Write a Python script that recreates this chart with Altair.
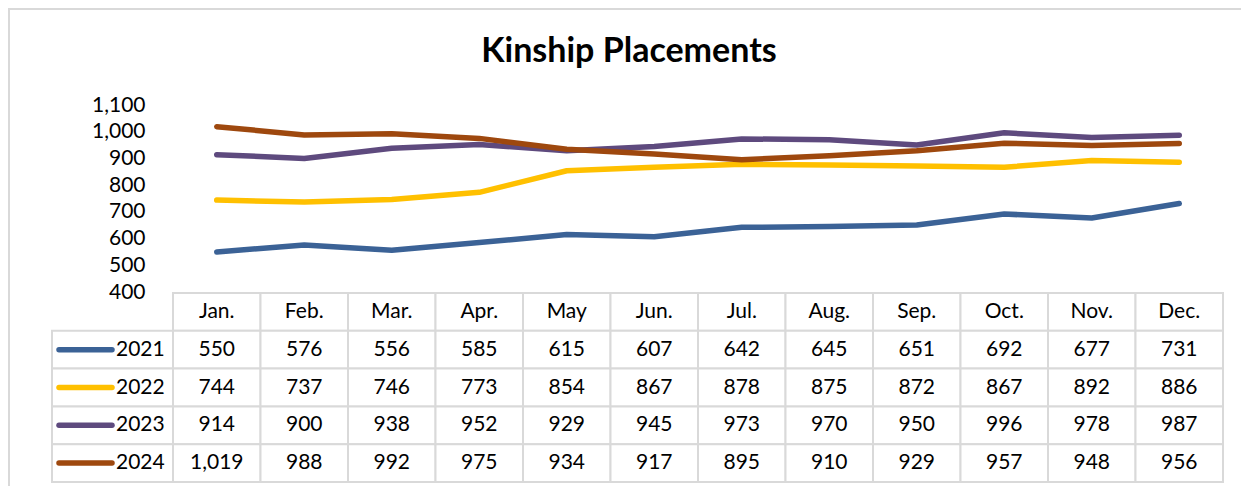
import altair as alt
import pandas as pd

months = ["Jan.", "Feb.", "Mar.", "Apr.", "May", "Jun.", "Jul.", "Aug.", "Sep.", "Oct.", "Nov.", "Dec."]
years = ["2021", "2022", "2023", "2024"]
v2021 = [550, 576, 556, 585, 615, 607, 642, 645, 651, 692, 677, 731]
v2022 = [744, 737, 746, 773, 854, 867, 878, 875, 872, 867, 892, 886]
v2023 = [914, 900, 938, 952, 929, 945, 973, 970, 950, 996, 978, 987]
v2024 = [1019, 988, 992, 975, 934, 917, 895, 910, 929, 957, 948, 956]
colors = ["#3B6296", "#FFC000", "#5E4A7E", "#9E480E"]
y_ticks = [400, 500, 600, 700, 800, 900, 1000, 1100]
title_text = "Kinship Placements"

series = {"2021": v2021, "2022": v2022, "2023": v2023, "2024": v2024}
FONT = "Lato"
FS = 21
W, H = 1050, 377
LINE_H = 187
rows = ["hdr"] + years

line_df = pd.DataFrame([
    {"year": y, "xc": i + 0.5, "value": v, "order": k}
    for k, y in enumerate(years) for i, v in enumerate(series[y])
])
cell_df = pd.DataFrame([
    {"x0": i, "x1": i + 1, "row": r} for i in range(len(months)) for r in rows
])
hdr_df = pd.DataFrame([{"xc": i + 0.5, "row": "hdr", "label": m} for i, m in enumerate(months)])
val_df = pd.DataFrame([
    {"xc": i + 0.5, "row": y, "label": f"{v:,}"}
    for y in years for i, v in enumerate(series[y])
])
leg_df = pd.DataFrame([{"row": y, "year": y} for y in years])

xs = alt.Scale(domain=[0, 12], nice=False, zero=False)
row_scale = alt.Scale(domain=rows, range=[LINE_H + 1, H], paddingInner=0, paddingOuter=0)
color_scale = alt.Scale(domain=years, range=colors)

lines = alt.Chart(line_df).mark_line(strokeWidth=5.5, strokeCap="round", strokeJoin="round").encode(
    x=alt.X("xc:Q", scale=xs, axis=None),
    y=alt.Y("value:Q", scale=alt.Scale(domain=[400, 1100], range=[LINE_H, 0], nice=False, zero=False),
            axis=alt.Axis(values=y_ticks, format=",.0f", domain=False, ticks=False, grid=False,
                          labelFont=FONT, labelFontSize=FS, labelColor="#000000",
                          labelPadding=28, title=None)),
    color=alt.Color("year:N", scale=color_scale, legend=None),
    detail="year:N",
    order=alt.Order("xc:Q"),
)

cells = alt.Chart(cell_df).mark_rect(fill="white", stroke="#D9D9D9", strokeWidth=2).encode(
    x=alt.X("x0:Q", scale=xs, axis=None),
    x2="x1:Q",
    y=alt.Y("row:N", scale=row_scale, axis=None),
)
leg_cells = alt.Chart(leg_df).mark_rect(fill="white", stroke="#D9D9D9", strokeWidth=2).encode(
    x=alt.value(-121), x2=alt.value(0),
    y=alt.Y("row:N", scale=row_scale, axis=None),
)
hdr_text = alt.Chart(hdr_df).mark_text(font=FONT, fontSize=FS, color="#000000", baseline="middle").encode(
    x=alt.X("xc:Q", scale=xs, axis=None),
    y=alt.Y("row:N", scale=row_scale, axis=None),
    text="label:N",
)
val_text = alt.Chart(val_df).mark_text(font=FONT, fontSize=FS, color="#000000", baseline="middle").encode(
    x=alt.X("xc:Q", scale=xs, axis=None),
    y=alt.Y("row:N", scale=row_scale, axis=None),
    text="label:N",
)
swatch = alt.Chart(leg_df).mark_rule(strokeWidth=5.5, strokeCap="round").encode(
    x=alt.value(-114), x2=alt.value(-61),
    y=alt.Y("row:N", scale=row_scale, axis=None),
    color=alt.Color("year:N", scale=color_scale, legend=None),
)
leg_text = alt.Chart(leg_df).mark_text(font=FONT, fontSize=FS, color="#000000", align="left", baseline="middle").encode(
    x=alt.value(-57),
    y=alt.Y("row:N", scale=row_scale, axis=None),
    text="year:N",
)
title = alt.Chart(pd.DataFrame([{"t": title_text}])).mark_text(
    font=FONT, fontSize=34, fontWeight="bold", color="#000000", align="center", baseline="alphabetic"
).encode(x=alt.value(456), y=alt.value(-43), text="t:N")

border_left = alt.Chart(pd.DataFrame([{"a": 0}])).mark_rule(color="#D9D9D9", strokeWidth=2).encode(
    x=alt.value(-164), y=alt.value(-97), y2=alt.value(H + 10))
border_top = alt.Chart(pd.DataFrame([{"a": 0}])).mark_rule(color="#D9D9D9", strokeWidth=2).encode(
    x=alt.value(-165), x2=alt.value(W + 40), y=alt.value(-96))

chart = alt.layer(
    border_left, border_top, title,
    cells, leg_cells, hdr_text, val_text, swatch, leg_text,
    lines,
).resolve_scale(y="independent").properties(
    width=W, height=H,
    background="white",
    autosize=alt.AutoSizeParams(type="none"),
    padding={"left": 165, "top": 97, "right": 18, "bottom": 4},
).configure_view(stroke=None)

chart.save("out.html", embed_options={"renderer": "svg", "actions": False})
